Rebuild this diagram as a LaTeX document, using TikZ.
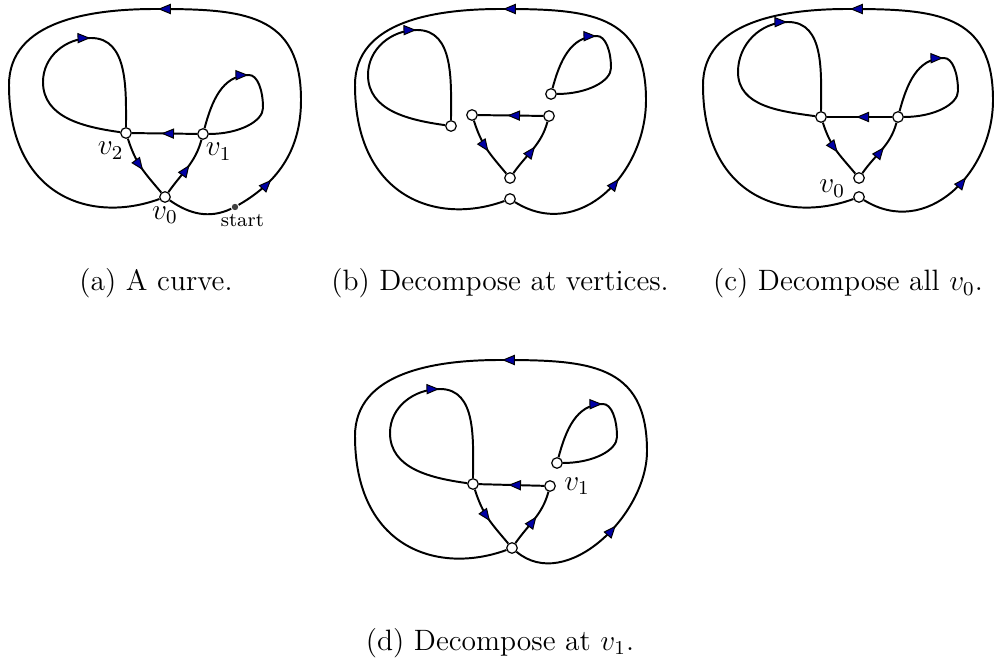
\documentclass[12pt,tikz,border=0pt]{standalone}
\usepackage{amsmath}
\usetikzlibrary{arrows.meta, decorations.markings, positioning}

\definecolor{arrowblue}{RGB}{0,0,165}

\tikzset{
  vtx/.style={circle, draw, fill=white, inner sep=0pt, minimum size=4.3pt, line width=0.5pt},
  startdot/.style={circle, fill=black!75, inner sep=0pt, minimum size=2.6pt},
  curve/.style={line width=0.8pt},
  arr/.style={postaction={decorate}, decoration={markings,
      mark=at position #1 with {\arrow{Triangle[length=5.2pt, width=4.2pt, fill=arrowblue, line width=0.4pt]}}}},
  lab/.style={inner sep=1pt},
  subcap/.style={anchor=base, inner sep=0pt},
  capin/.style={out=0, in=90, out looseness=0.6, in looseness=1.3},
  capout/.style={out=-90, in=0, out looseness=0.56, in looseness=1.3},
}

\begin{document}
\begin{tikzpicture}[x=0.01432cm, y=0.01432cm, curve]
\useasboundingbox (0,0) rectangle (994,-658);

% (a) the curve
\begin{scope}
\node[vtx, label={[lab]below:$v_0$}] (a-v0) at (165,-197) {};
\node[vtx, label={[lab, anchor=north east]-80:$v_2$}] (a-v2) at (126,-133) {};
\node[vtx, label={[lab, anchor=north west]-95:$v_1$}] (a-v1) at (203,-134) {};
\node[startdot, label={[lab, font=\scriptsize, xshift=3pt]below:start}] (a-start) at (235,-207) {};
\coordinate (a-right) at (301,-100);
\coordinate (a-top) at (156,-9);
\coordinate (a-left) at (9,-85);
\coordinate (a-l1) at (43,-82);
\coordinate (a-l2) at (91,-38);
\coordinate (a-r1) at (249,-75);
\coordinate (a-r2) at (263,-108);

\draw[arr=0.32] (a-start) to[out=30, in=-90] (a-right);
\draw[arr=0.99] (a-right) to[out=90, in=0, looseness=1.3] (a-top);
\draw (a-top) to[out=180, in=90] (a-left);
\draw (a-left) to[out=-90, in=200, out looseness=1.5] (a-v0);
\draw[arr=0.55] (a-v0) to[out=55, in=-105] (a-v1);
\draw[arr=0.99] (a-v1) to[out=75, in=180] (a-r1);
\draw (a-r1) to[capin] (a-r2);
\draw (a-r2) to[capout] (a-v1);
\draw[arr=0.55] (a-v1) -- (a-v2);
\draw (a-v2) to[out=172, in=-90] (a-l1);
\draw[arr=0.99] (a-l1) to[out=90, in=180] (a-l2);
\draw (a-l2) to[out=0, in=90] (a-v2);
\draw[arr=0.55] (a-v2) to[out=-72, in=130, looseness=1.1] (a-v0);
\draw (a-v0) to[out=-35, in=205] (a-start);
\end{scope}

% (b) split at every vertex
\begin{scope}[shift={(345,0)}]
\node[vtx] (b-o) at (165,-199) {};
\node[vtx] (b-v0) at (165,-178) {};
\node[vtx] (b-v2) at (127,-115) {};
\node[vtx] (b-v1) at (204,-116) {};
\node[vtx] (b-p) at (106,-126) {};
\node[vtx] (b-q) at (206,-94) {};
\coordinate (b-right) at (301,-100);
\coordinate (b-top) at (156,-9);
\coordinate (b-left) at (10,-85);
\coordinate (b-l1) at (23,-75);
\coordinate (b-l2) at (72,-30);
\coordinate (b-r1) at (252,-36);
\coordinate (b-r2) at (266,-68);

\draw[arr=0.58] (b-o) to[out=-32, in=-90, looseness=1.15] (b-right);
\draw[arr=0.99] (b-right) to[out=90, in=0, looseness=1.3] (b-top);
\draw (b-top) to[out=180, in=90] (b-left);
\draw (b-left) to[out=-90, in=200, out looseness=1.5] (b-o);
\draw[arr=0.55] (b-v1) -- (b-v2);
\draw[arr=0.55] (b-v2) to[out=-72, in=130, looseness=1.1] (b-v0);
\draw[arr=0.55] (b-v0) to[out=55, in=-105] (b-v1);
\draw (b-p) to[out=172, in=-90] (b-l1);
\draw[arr=0.99] (b-l1) to[out=90, in=180] (b-l2);
\draw (b-l2) to[out=0, in=90] (b-p);
\draw[arr=0.99] (b-q) to[out=75, in=180] (b-r1);
\draw (b-r1) to[capin] (b-r2);
\draw (b-r2) to[capout] (b-q);
\end{scope}

% (c) split every v0
\begin{scope}[shift={(692,0)}]
\node[vtx] (c-o) at (167,-197) {};
\node[vtx, label={[lab, anchor=north east, xshift=-2pt]165:$v_0$}] (c-v0) at (167,-178) {};
\node[vtx] (c-v2) at (129,-117) {};
\node[vtx] (c-v1) at (206,-117) {};
\coordinate (c-right) at (301,-100);
\coordinate (c-top) at (156,-9);
\coordinate (c-left) at (11,-85);
\coordinate (c-l1) at (46,-72);
\coordinate (c-l2) at (96,-22);
\coordinate (c-r1) at (252,-58);
\coordinate (c-r2) at (266,-91);

\draw[arr=0.58] (c-o) to[out=-32, in=-90, looseness=1.15] (c-right);
\draw[arr=0.99] (c-right) to[out=90, in=0, looseness=1.3] (c-top);
\draw (c-top) to[out=180, in=90] (c-left);
\draw (c-left) to[out=-90, in=200, out looseness=1.5] (c-o);
\draw[arr=0.55] (c-v1) -- (c-v2);
\draw[arr=0.55] (c-v2) to[out=-72, in=130, looseness=1.1] (c-v0);
\draw[arr=0.55] (c-v0) to[out=55, in=-105] (c-v1);
\draw (c-v2) to[out=172, in=-90] (c-l1);
\draw[arr=0.99] (c-l1) to[out=90, in=180] (c-l2);
\draw (c-l2) to[out=0, in=90] (c-v2);
\draw[arr=0.99] (c-v1) to[out=75, in=180] (c-r1);
\draw (c-r1) to[capin] (c-r2);
\draw (c-r2) to[capout] (c-v1);
\end{scope}

% (d) split at v1
\begin{scope}[shift={(347,-351)}]
\node[vtx] (d-v0) at (165,-197) {};
\node[vtx] (d-v2) at (126,-133) {};
\node[vtx, label={[lab, label distance=2pt]right:$v_1$}] (d-v1) at (203,-135) {};
\node[vtx] (d-q) at (210,-112) {};
\coordinate (d-right) at (300,-100);
\coordinate (d-top) at (153,-9);
\coordinate (d-left) at (8,-85);
\coordinate (d-l1) at (43,-82);
\coordinate (d-l2) at (93,-38);
\coordinate (d-r1) at (256,-53);
\coordinate (d-r2) at (270,-86);

\draw[arr=0.58] (d-v0) to[out=-40, in=-90] (d-right);
\draw[arr=0.99] (d-right) to[out=90, in=0, looseness=1.3] (d-top);
\draw (d-top) to[out=180, in=90] (d-left);
\draw (d-left) to[out=-90, in=200, out looseness=1.5] (d-v0);
\draw[arr=0.55] (d-v0) to[out=55, in=-105] (d-v1);
\draw[arr=0.55] (d-v1) -- (d-v2);
\draw[arr=0.55] (d-v2) to[out=-72, in=130, looseness=1.1] (d-v0);
\draw (d-v2) to[out=172, in=-90] (d-l1);
\draw[arr=0.99] (d-l1) to[out=90, in=180] (d-l2);
\draw (d-l2) to[out=0, in=90] (d-v2);
\draw[arr=0.99] (d-q) to[out=75, in=180] (d-r1);
\draw (d-r1) to[capin] (d-r2);
\draw (d-r2) to[capout] (d-q);
\end{scope}

% captions
\node[subcap] (cap-a) at (156,-291) {(a) A curve.};
\node[subcap] (cap-b) at (500,-291) {(b) Decompose at vertices.};
\node[subcap] (cap-c) at (848,-291) {(c) Decompose all $v_0$.};
\node[subcap] (cap-d) at (500,-650) {(d) Decompose at $v_1$.};
\end{tikzpicture}
\end{document}
